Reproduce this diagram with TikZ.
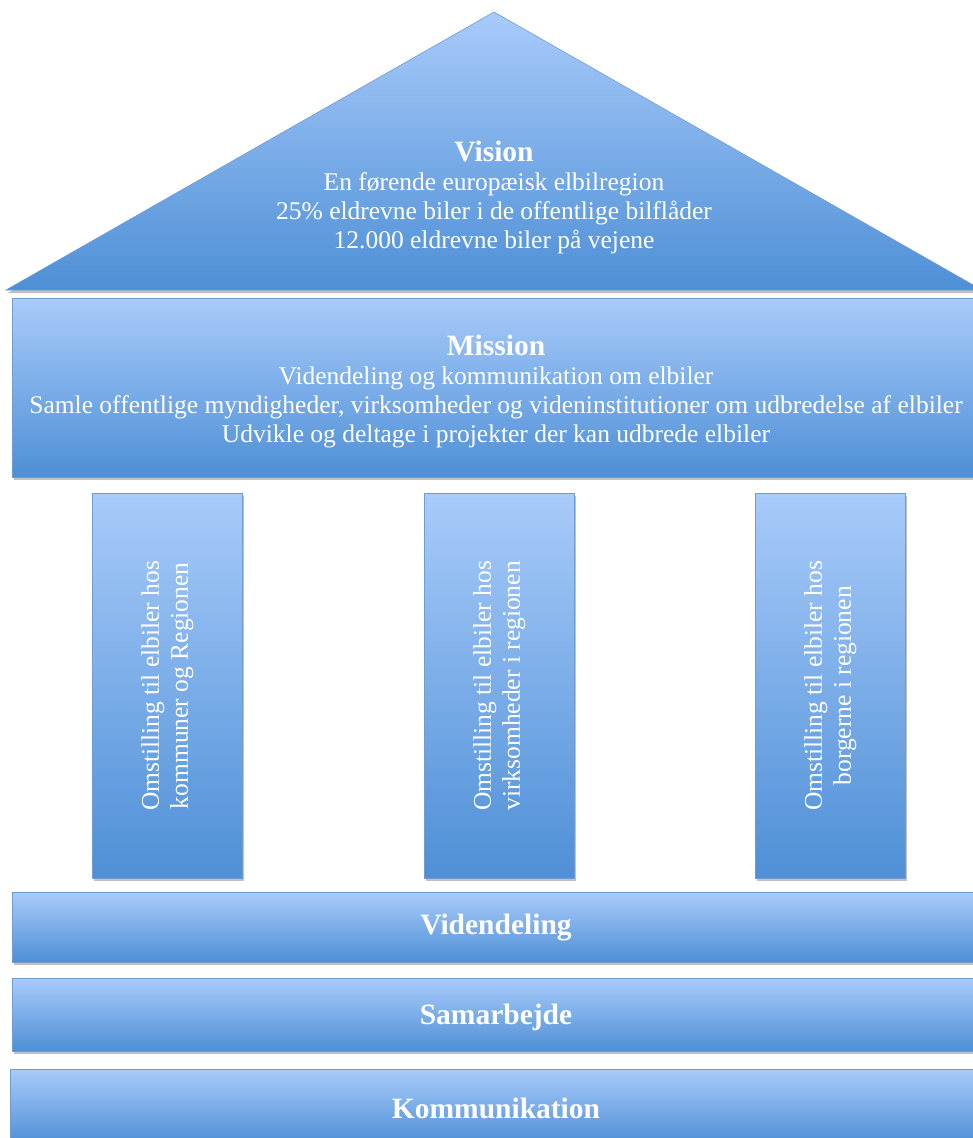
\documentclass[tikz,border=0pt]{standalone}
\usepackage{fontspec}
\setmainfont{Liberation Serif}
\usetikzlibrary{shadows}
\definecolor{topblue}{RGB}{168,203,250}
\definecolor{botblue}{RGB}{78,143,214}
\definecolor{edgeblue}{RGB}{112,156,208}
\begin{document}
\begin{tikzpicture}[x=1pt,y=-1pt,
  blueshade/.style={top color=topblue,bottom color=botblue,draw=edgeblue,line width=0.6pt,
    drop shadow={shadow xshift=1.5pt,shadow yshift=-3pt,opacity=0.35,fill=black!70}},
  box/.style={blueshade,rectangle,inner sep=0pt,anchor=north west},
  txt/.style={text=white,align=center,inner sep=0pt,font=\fontsize{25.5}{29}\selectfont},
  ptxt/.style={text=white,align=center,inner sep=0pt,rotate=90,font=\fontsize{25.5}{29}\selectfont},
  btxt/.style={text=white,inner sep=0pt,font=\bfseries\fontsize{29.5}{33}\selectfont}
]
\useasboundingbox (0,0) rectangle (972,1138);
\fill[white] (0,0) rectangle (972,1138);
% roof
\coordinate (apex) at (494,12);
\coordinate (roofL) at (6,290);
\coordinate (roofR) at (982,290);
\path[blueshade] (apex) -- (roofL) -- (roofR) -- cycle;
\node[txt] (vision) at (494,197) {{\bfseries\fontsize{29.5}{33}\selectfont Vision}\\
  En førende europæisk elbilregion\\
  25\% eldrevne biler i de offentlige bilflåder\\
  12.000 eldrevne biler på vejene};
% mission
\node[box,minimum width=975pt,minimum height=179pt] (mission) at (12,298) {};
\node[txt] (missiontxt) at (496,392) {{\bfseries\fontsize{29.5}{33}\selectfont Mission}\\
  Videndeling og kommunikation om elbiler\\
  Samle offentlige myndigheder, virksomheder og videninstitutioner om udbredelse af elbiler\\
  Udvikle og deltage i projekter der kan udbrede elbiler};
% pillars
\node[box,minimum width=150pt,minimum height=385pt] (p1) at (92,493) {};
\node[box,minimum width=150pt,minimum height=385pt] (p2) at (424,493) {};
\node[box,minimum width=150pt,minimum height=385pt] (p3) at (755,493) {};
\node[ptxt] (p1t) at (p1.center) {Omstilling til elbiler hos\\kommuner og Regionen};
\node[ptxt] (p2t) at (p2.center) {Omstilling til elbiler hos\\virksomheder i regionen};
\node[ptxt] (p3t) at (p3.center) {Omstilling til elbiler hos\\borgerne i regionen};
% foundation bars
\node[box,minimum width=975pt,minimum height=70pt] (b1) at (12,892) {};
\node[btxt] (b1t) at (496,928) {Videndeling};
\node[box,minimum width=975pt,minimum height=73pt] (b2) at (12,978) {};
\node[btxt] (b2t) at (496,1017) {Samarbejde};
\node[box,minimum width=975pt,minimum height=75pt] (b3) at (10,1069) {};
\node[btxt] (b3t) at (496,1108) {Kommunikation};
\end{tikzpicture}
\end{document}
